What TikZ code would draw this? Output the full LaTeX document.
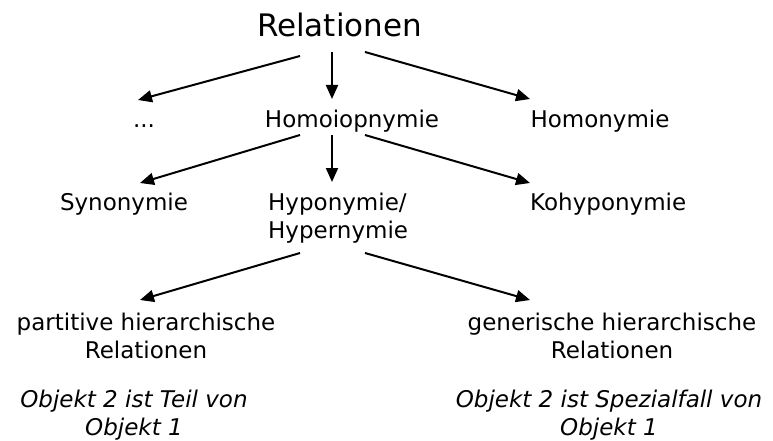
\documentclass[tikz,border=0pt]{standalone}
\usepackage{fontspec}
\setmainfont{DejaVu Sans}
\usetikzlibrary{arrows.meta,calc}

\tikzset{
  lbl/.style={inner sep=0pt, font=\fontsize{23}{28}\selectfont},
  title/.style={inner sep=0pt, font=\fontsize{31}{36}\selectfont},
  note/.style={lbl, font=\fontsize{23}{28}\selectfont\itshape},
  rel/.style={line width=2pt, -{Triangle[length=14pt,width=12pt]}}
}

\begin{document}
\begin{tikzpicture}[x=1pt,y=-1pt]
  \useasboundingbox (0,0) rectangle (773,441);

  % top level
  \node[title, anchor=base] (relationen) at (339.5,37) {Relationen};

  % first level
  \node[lbl, anchor=base] (dots)   at (144,128) {...};
  \node[lbl, anchor=base] (homoio) at (352,128) {Homoiopnymie};
  \node[lbl, anchor=base] (homon)  at (600,128) {Homonymie};

  % second level (two-line nodes sit on the baseline of their last line)
  \node[lbl, anchor=base] (syn) at (124,210) {Synonymie};
  \node[lbl, anchor=base west, align=left] (hypo) at (268,238) {Hyponymie/\\Hypernymie};
  \node[lbl, anchor=base west] (kohypo) at (530,210) {Kohyponymie};

  % third level
  \node[lbl, anchor=base, align=center] (part) at (146,358) {partitive hierarchische\\Relationen};
  \node[lbl, anchor=base, align=center] (gen)  at (612,358) {generische hierarchische\\Relationen};

  % explanations
  \node[note, anchor=base, align=center] (objpart) at (134,435) {Objekt 2 ist Teil von\\Objekt 1};
  \node[note, anchor=base, align=center] (objgen)  at (609,435) {Objekt 2 ist Spezialfall von\\Objekt 1};

  % connectors
  \draw[rel] ($(relationen.base)+(-39.5,19)$) -- ($(dots.base)+(-6,-28)$);
  \draw[rel] ($(relationen.base)+(-7.5,15)$)  -- ($(homoio.base)+(-20,-29)$);
  \draw[rel] ($(relationen.base)+(25.5,15)$)  -- ($(homon.base)+(-70,-29)$);

  \draw[rel] ($(homoio.base)+(-52,7)$) -- ($(syn.base)+(16,-27)$);
  \draw[rel] ($(homoio.base)+(-20,7)$) -- ($(hypo.base west)+(64,-56)$);
  \draw[rel] ($(homoio.base)+(13,7)$)  -- ($(kohypo.base west)+(0,-27)$);

  \draw[rel] ($(hypo.base west)+(32,15)$) -- ($(part.base)+(-6,-58)$);
  \draw[rel] ($(hypo.base west)+(97,15)$) -- ($(gen.base)+(-82,-58)$);
\end{tikzpicture}
\end{document}
